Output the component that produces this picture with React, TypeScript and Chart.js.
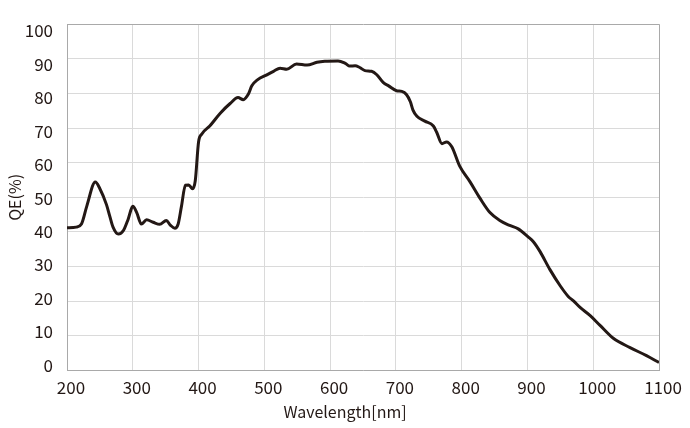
import React, { useEffect, useRef } from "react";
import { Chart, registerables } from "chart.js";

Chart.register(...registerables);

const wavelengths = [
  200, 214, 222, 230, 243, 250, 260, 265, 270, 278, 286, 293, 300, 306, 313, 321, 331, 341, 351, 357,
  364, 369, 374, 380, 385, 391, 395, 400, 405, 417, 433, 448, 460, 468, 476, 481, 490, 503, 514, 524,
  534, 549, 565, 580, 592, 612, 623, 630, 638, 645, 653, 663, 671, 681, 689, 701, 709, 716, 722, 726,
  732, 744, 757, 762, 770, 777, 785, 797, 813, 828, 843, 858, 873, 886, 901, 909, 919, 934, 950, 962,
  970, 980, 995, 1010, 1030, 1056, 1081, 1100,
];
const qe = [
  41.2, 41.4, 42.3, 47.4, 54.4, 52.5, 47.9, 44.6, 41.4, 39.4, 40.5, 43.7, 47.4, 45.6, 42.3, 43.5, 42.8, 42.2, 43.3, 42.0,
  41.1, 42.3, 47.4, 53.5, 53.6, 52.5, 54.8, 66.0, 68.3, 70.6, 74.3, 77.1, 78.8, 78.2, 79.9, 82.2, 84.0, 85.3, 86.4, 87.3,
  87.0, 88.5, 88.2, 89.0, 89.3, 89.4, 88.7, 87.9, 88.0, 87.5, 86.6, 86.4, 85.4, 83.1, 82.2, 80.8, 80.6, 79.7, 77.6, 75.2,
  73.4, 72.0, 70.6, 68.8, 65.5, 66.0, 64.6, 59.0, 54.4, 49.7, 45.6, 43.3, 41.9, 40.9, 38.6, 37.2, 34.4, 29.2, 24.4, 21.4,
  20.1, 18.2, 15.9, 13.1, 9.4, 6.6, 4.3, 2.3,
];
const yTickLabels = [0, 10, 20, 30, 40, 50, 60, 70, 80, 90, 100];
const xTitle = "Wavelength[nm]";
const yTitle = "QE(%)";

const FONT = '"Noto Sans CJK JP", "Noto Sans", sans-serif';
const TEXT = "#231815";
const GRID = "#dadada";
const FRAME = "#a9a9a9";

export default function App() {
  const ref = useRef<HTMLCanvasElement | null>(null);

  useEffect(() => {
    document.body.style.margin = "0";
    const canvas = ref.current;
    if (!canvas) return;

    const xTitlePlugin = {
      id: "xTitlePlugin",
      afterDraw(chart: any) {
        const ctx = chart.ctx;
        ctx.save();
        ctx.font = `16px ${FONT}`;
        ctx.fillStyle = TEXT;
        ctx.textAlign = "center";
        ctx.textBaseline = "middle";
        ctx.fillText(xTitle, 345, 412);
        ctx.restore();
      },
    };

    const chart = new Chart(canvas, {
      type: "line",
      data: {
        datasets: [
          {
            data: wavelengths.map((w, i) => ({ x: w, y: qe[i] })),
            borderColor: TEXT,
            borderWidth: 3,
            pointRadius: 0,
            cubicInterpolationMode: "monotone",
            fill: false,
            xAxisID: "x",
            yAxisID: "y",
          },
        ],
      },
      options: {
        animation: false,
        responsive: true,
        maintainAspectRatio: false,
        layout: { padding: { top: 11, right: 31, left: 0, bottom: 0 } },
        plugins: { legend: { display: false }, tooltip: { enabled: false } },
        scales: {
          x: {
            type: "linear",
            min: 200,
            max: 1100,
            afterFit: (s: any) => {
              s.height = 57.5;
            },
            ticks: {
              stepSize: 100,
              padding: 7,
              labelOffset: 4,
              color: TEXT,
              font: { family: FONT, size: 17 },
              maxRotation: 0,
              callback: (v: any) => String(v),
            },
            grid: {
              drawTicks: false,
              color: (c: any) => (c.tick && c.tick.value === 1100 ? FRAME : GRID),
              lineWidth: 1,
            },
            border: { color: FRAME, width: 1 },
          },
          y: {
            type: "linear",
            position: "left",
            min: 0,
            max: 100,
            afterFit: (s: any) => {
              s.width = 0;
            },
            ticks: { stepSize: 10, display: false },
            grid: {
              drawTicks: false,
              color: (c: any) => (c.tick && c.tick.value === 100 ? FRAME : GRID),
              lineWidth: 1,
            },
            border: { color: FRAME, width: 1 },
          },
          yl: {
            type: "linear",
            position: "left",
            min: -1.585,
            max: 102.02,
            afterFit: (s: any) => {
              s.width = 67;
            },
            afterBuildTicks: (s: any) => {
              s.ticks = yTickLabels.map((v) => ({ value: v }));
            },
            ticks: {
              padding: 14,
              color: TEXT,
              font: { family: FONT, size: 17 },
              callback: (v: any) => String(v),
            },
            grid: { display: false, drawTicks: false },
            border: { display: false },
            title: {
              display: true,
              text: yTitle,
              color: TEXT,
              font: { family: FONT, size: 16 },
              padding: { top: 5, bottom: 0 },
            },
          },
        },
      },
      plugins: [xTitlePlugin],
    } as any);

    return () => chart.destroy();
  }, []);

  return (
    <div style={{ position: "fixed", left: 0, top: 0, width: 690, height: 428, background: "#fff" }}>
      <canvas ref={ref} />
    </div>
  );
}
